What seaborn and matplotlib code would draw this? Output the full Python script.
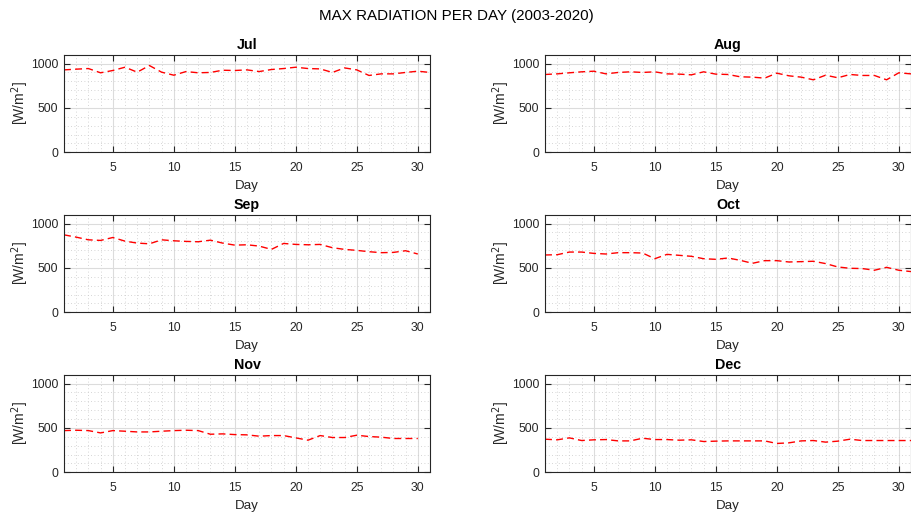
import numpy as np
import pandas as pd
import matplotlib
matplotlib.use("Agg")
import matplotlib.pyplot as plt
import seaborn as sns
from matplotlib.ticker import MultipleLocator

months = ["Jul", "Aug", "Sep", "Oct", "Nov", "Dec"]

jul = [929, 937, 944, 896, 922, 959, 903, 978, 903, 869, 910, 896, 900, 925, 922, 929,
       910, 933, 944, 959, 944, 940, 900, 951, 929, 866, 884, 884, 900, 914, 900]
aug = [877, 884, 896, 907, 914, 884, 900, 907, 900, 907, 884, 881, 873, 907, 881, 877,
       851, 847, 836, 892, 862, 847, 817, 869, 840, 877, 866, 866, 817, 896, 884]
sep = [873, 847, 817, 810, 843, 802, 780, 772, 817, 806, 799, 795, 813, 780, 757, 761,
       746, 709, 776, 765, 761, 765, 728, 709, 698, 683, 672, 675, 694, 657]
oct_ = [646, 649, 679, 679, 664, 657, 672, 672, 668, 604, 653, 642, 631, 604, 597, 612,
        586, 552, 582, 582, 567, 571, 575, 549, 511, 496, 493, 474, 507, 474, 459]
nov = [470, 474, 470, 444, 470, 463, 455, 455, 463, 470, 474, 470, 429, 433, 425, 422,
       407, 414, 414, 388, 362, 414, 392, 392, 418, 403, 396, 381, 381, 381]
dec = [373, 366, 388, 358, 366, 369, 354, 354, 384, 369, 369, 362, 366, 347, 351, 354,
       354, 354, 354, 325, 332, 354, 358, 340, 351, 373, 358, 358, 358, 358, 358]

series = [jul, aug, sep, oct_, nov, dec]

sns.set_style("ticks")
plt.rcParams['font.family'] = ['Liberation Sans', 'DejaVu Sans']

fig = plt.figure(figsize=(9.12, 5.17), dpi=100)

lefts = [64 / 912, 545 / 912]
width = 366 / 912
height = 97.6 / 517
bottoms = [1 - 152.3 / 517, 1 - 312.3 / 517, 1 - 472.3 / 517]

spine_col = "#262626"
for i, (name, vals) in enumerate(zip(months, series)):
    r, c = divmod(i, 2)
    ax = fig.add_axes([lefts[c], bottoms[r], width, height])
    df = pd.DataFrame({"Day": np.arange(1, len(vals) + 1), "Rad": vals})
    sns.lineplot(data=df, x="Day", y="Rad", ax=ax, color="red",
                 linestyle=(0, (5, 3)), linewidth=1.0)
    ax.set_xlim(1, 31)
    ax.set_ylim(0, 1100)
    ax.xaxis.set_major_locator(MultipleLocator(5))
    ax.xaxis.set_minor_locator(MultipleLocator(1))
    ax.yaxis.set_major_locator(MultipleLocator(500))
    ax.yaxis.set_minor_locator(MultipleLocator(100))
    ax.grid(True, which="major", color="#dcdcdc", linewidth=0.8, linestyle="-")
    ax.grid(True, which="minor", color="#c8c8c8", linewidth=0.6, linestyle=(0, (1, 3)))
    ax.set_axisbelow(True)
    ax.tick_params(which="major", direction="in", length=4, top=True, right=True,
                   labelsize=8.8, colors=spine_col, width=0.8)
    ax.tick_params(axis="x", which="major", pad=7)
    ax.tick_params(axis="y", which="major", pad=4)
    ax.tick_params(which="minor", length=0)
    for s in ax.spines.values():
        s.set_visible(True)
        s.set_color(spine_col)
        s.set_linewidth(0.8)
    ax.set_xlabel("Day", fontsize=9.6, color=spine_col, labelpad=4)
    ax.set_ylabel("[W/m$^2$]", fontsize=10, color=spine_col, labelpad=0)
    ax.set_title(name, fontsize=10.3, fontweight="bold", color="black", pad=4)

fig.text(0.5, 0.969, "MAX RADIATION PER DAY (2003-2020)", ha="center", va="center",
         fontsize=10.9, color="black")

fig.savefig("out.png", dpi=100)
